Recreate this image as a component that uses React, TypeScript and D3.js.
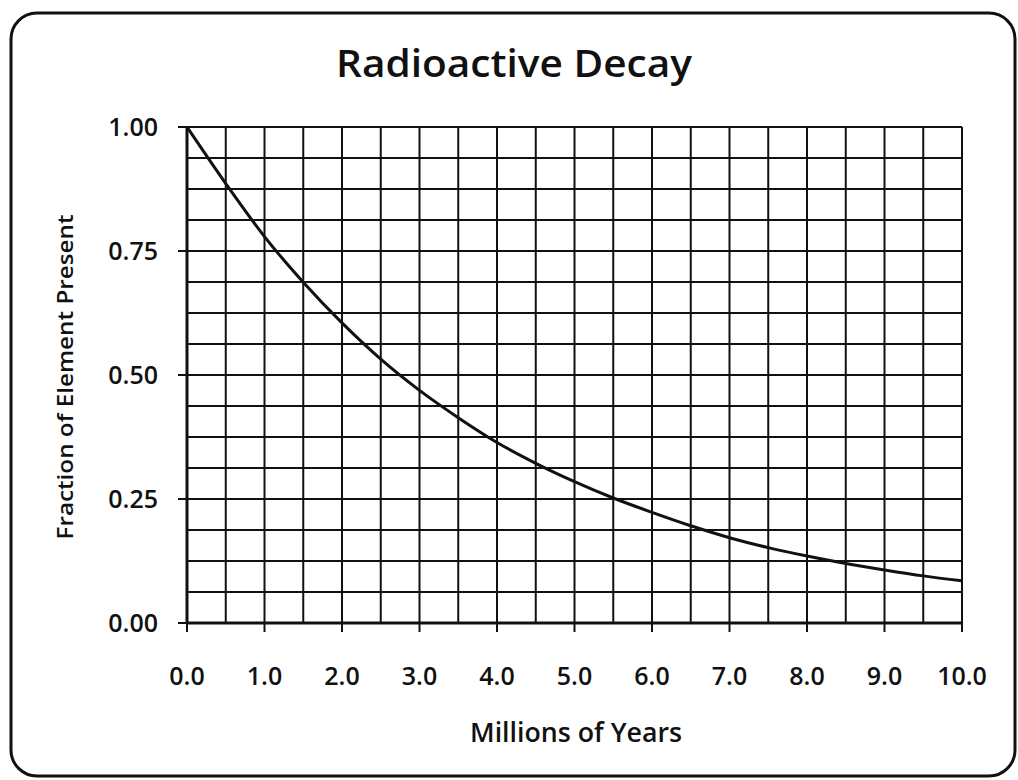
import React from "react"
import * as d3 from "d3"

const years = [0, 0.5, 1, 1.5, 2, 2.5, 3, 3.5, 4, 4.5, 5, 5.5, 6, 6.5, 7, 7.5, 8, 8.5, 9, 9.5, 10]
const fraction = [1.0, 0.886, 0.779, 0.687, 0.605, 0.532, 0.469, 0.414, 0.364, 0.322, 0.285, 0.252, 0.223, 0.196, 0.172, 0.152, 0.135, 0.12, 0.107, 0.095, 0.085]
const xTicks = [0, 1, 2, 3, 4, 5, 6, 7, 8, 9, 10]
const yTicks = [0, 0.25, 0.5, 0.75, 1]
const xGrid = d3.range(0, 10.01, 0.5)
const yGrid = d3.range(0, 1.001, 0.0625)

const W = 1018
const H = 780
const left = 187
const right = 962
const top = 127
const bottom = 623
const font = "'Open Sans', sans-serif"

export default function App() {
  const x = d3.scaleLinear().domain([0, 10]).range([left, right])
  const y = d3.scaleLinear().domain([0, 1]).range([bottom, top])
  const pts = years.map((v, i) => [v, fraction[i]] as [number, number])
  const line = d3
    .line<[number, number]>()
    .x((d) => x(d[0]))
    .y((d) => y(d[1]))
    .curve(d3.curveMonotoneX)

  return (
    <svg
      width={W}
      height={H}
      style={{ position: "absolute", left: 0, top: 0, background: "#fff" }}
    >
      <rect x={11} y={13} width={1004} height={763} rx={26} fill="#fff" stroke="#111" strokeWidth={3} />
      <text x={514} y={77} textAnchor="middle" fontFamily={font} fontWeight={600} fontSize={37} fill="#111"
        textLength={356} lengthAdjust="spacingAndGlyphs">
        Radioactive Decay
      </text>
      {xGrid.map((v) => (
        <line key={"xg" + v} x1={x(v)} x2={x(v)} y1={top} y2={bottom} stroke="#111" strokeWidth={2} />
      ))}
      {yGrid.map((v) => (
        <line key={"yg" + v} x1={left} x2={right} y1={y(v)} y2={y(v)} stroke="#111" strokeWidth={2} />
      ))}
      <line x1={left} x2={left} y1={top} y2={bottom} stroke="#111" strokeWidth={3} />
      <line x1={left} x2={right} y1={bottom} y2={bottom} stroke="#111" strokeWidth={3} />
      {yTicks.map((v) => (
        <g key={"yt" + v}>
          <line x1={left - 9} x2={left} y1={y(v)} y2={y(v)} stroke="#111" strokeWidth={2} />
          <text x={158} y={y(v) + 9} textAnchor="end" fontFamily={font} fontWeight={600} fontSize={25} fill="#111">
            {v.toFixed(2)}
          </text>
        </g>
      ))}
      {xTicks.map((v) => (
        <g key={"xt" + v}>
          <line x1={x(v)} x2={x(v)} y1={bottom} y2={bottom + 9} stroke="#111" strokeWidth={2} />
          <text x={x(v)} y={685} textAnchor="middle" fontFamily={font} fontWeight={600} fontSize={25} fill="#111">
            {v.toFixed(1)}
          </text>
        </g>
      ))}
      <path d={line(pts) ?? ""} fill="none" stroke="#111" strokeWidth={3} />
      <text x={576} y={742} textAnchor="middle" fontFamily={font} fontWeight={600} fontSize={27} fill="#111"
        textLength={212} lengthAdjust="spacingAndGlyphs">
        Millions of Years
      </text>
      <text
        transform="translate(73,377) rotate(-90)"
        textAnchor="middle"
        fontFamily={font}
        fontWeight={600}
        fontSize={21}
        fill="#111"
        textLength={325}
        lengthAdjust="spacingAndGlyphs"
      >
        Fraction of Element Present
      </text>
    </svg>
  )
}
